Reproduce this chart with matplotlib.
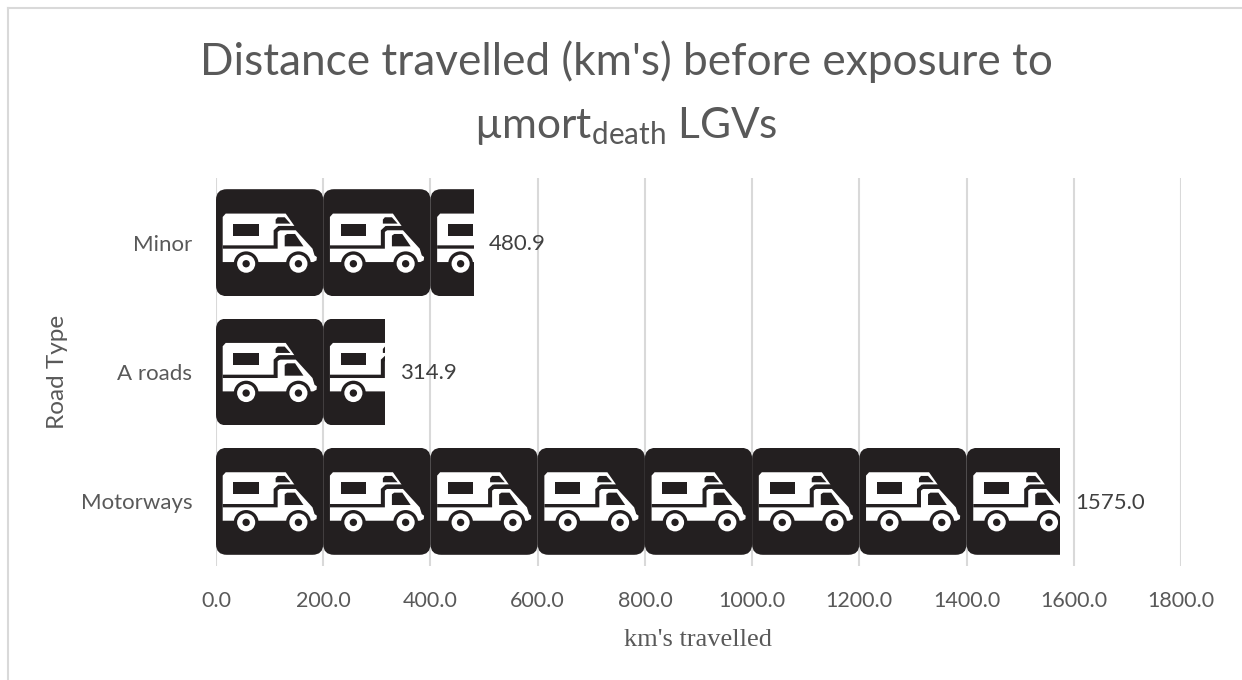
import matplotlib
matplotlib.use('Agg')
import matplotlib.pyplot as plt
from matplotlib.patches import Circle, PathPatch, Polygon
from matplotlib.path import Path
from matplotlib.transforms import Affine2D
from matplotlib.lines import Line2D

# data
road_types = ['Motorways', 'A roads', 'Minor']
km_travelled = [1575.0, 314.9, 480.9]
tile_km = 200.0
x_ticks = [0, 200, 400, 600, 800, 1000, 1200, 1400, 1600, 1800]

plt.rcParams['font.family'] = ['Lato', 'DejaVu Sans']
plt.rcParams['mathtext.fontset'] = 'custom'
plt.rcParams['mathtext.rm'] = 'Lato'
plt.rcParams['mathtext.default'] = 'regular'

GREY = '#595959'
GRID = '#d9d9d9'
DARK = '#231f20'
W, H = 1242, 680

fig = plt.figure(figsize=(W / 100, H / 100), dpi=100)
ax = fig.add_axes([216 / W, 1 - 566 / H, (1181 - 216) / W, (566 - 178) / H])
ax.set_xlim(0, 1800)
ax.set_ylim(-0.5, 2.5)
bar_height = 0.827


# icon outline measured in pixels of a 320 px tile, y going down
def pt(x, y):
    return ((x - 50) / 320, (347 - y) / 320)


def pts(coords):
    return [pt(x, y) for x, y in coords]


def rounded_tile(r=0.1):
    verts = [(r, 0), (1 - r, 0), (1, 0), (1, r), (1, 1 - r), (1, 1), (1 - r, 1),
             (r, 1), (0, 1), (0, 1 - r), (0, r), (0, 0), (r, 0), (r, 0)]
    codes = [Path.MOVETO, Path.LINETO, Path.CURVE3, Path.CURVE3, Path.LINETO,
             Path.CURVE3, Path.CURVE3, Path.LINETO, Path.CURVE3, Path.CURVE3,
             Path.LINETO, Path.CURVE3, Path.CURVE3, Path.CLOSEPOLY]
    return Path(verts, codes)


body = [(70, 110), (79, 100), (258, 100), (284, 137), (240, 137), (232, 150), (288, 150),
        (338, 205), (344, 225), (351, 230), (350, 240), (340, 245), (70, 245)]
window = [(102, 130), (177, 130), (177, 166), (102, 166)]
top_window = [(228, 118), (234, 111), (255, 111), (272, 130), (228, 130)]
cab_window = [(255, 166), (262, 161), (286, 161), (311, 198), (255, 198)]
stripe = [(70, 195), (222, 195), (222, 150), (236, 137), (284, 137), (288, 146), (245, 146),
          (234, 155), (234, 205), (70, 205)]
wheels = [(140, 250), (296, 250)]


def draw_tile(x0, y0, clip):
    tr = Affine2D().scale(tile_km, bar_height).translate(x0, y0) + ax.transData
    shapes = [PathPatch(rounded_tile(), fc=DARK, ec='none', transform=tr)]
    shapes.append(Polygon(pts(body), fc='white', ec='none', transform=tr))
    for poly in [window, top_window, cab_window, stripe]:
        shapes.append(Polygon(pts(poly), fc=DARK, ec='none', transform=tr))
    for wx, wy in wheels:
        c = pt(wx, wy)
        shapes.append(Circle(c, 37 / 320, fc=DARK, ec='none', transform=tr))
        shapes.append(Circle(c, 27 / 320, fc='white', ec='none', transform=tr))
        shapes.append(Circle(c, 11 / 320, fc=DARK, ec='none', transform=tr))
    for s in shapes:
        s.set_zorder(3)
        ax.add_patch(s)
        s.set_clip_path(clip)


bars = ax.barh(range(len(road_types)), km_travelled, height=bar_height, color='none', edgecolor='none')
for i, (rect, val) in enumerate(zip(bars, km_travelled)):
    y0 = i - bar_height / 2
    x0 = 0.0
    while x0 < val:
        draw_tile(x0, y0, rect)
        x0 += tile_km
    ax.annotate(f'{val:.1f}', (val, i), xytext=(11, -1), textcoords='offset points',
                ha='left', va='center', fontsize=16, color='#404040', zorder=4)

ax.set_xticks(x_ticks)
ax.set_xticklabels([f'{v:.1f}' for v in x_ticks], fontsize=15.5, color=GREY)
ax.set_yticks(range(len(road_types)))
ax.set_yticklabels(road_types, fontsize=16, color=GREY)
ax.tick_params(length=0)
ax.tick_params(axis='x', pad=18)
ax.tick_params(axis='y', pad=17)
ax.grid(axis='x', color=GRID, lw=1.5, zorder=0)
ax.set_axisbelow(True)
for s in ax.spines.values():
    s.set_visible(False)

fig.text(58 / W, 1 - 372 / H, 'Road Type', rotation=90, ha='center', va='center',
         fontsize=17.5, color=GREY)
fig.text(698 / W, 1 - 640 / H, "km's travelled", ha='center', va='center', fontsize=19,
         color=GREY, family='Liberation Serif')
fig.text(626 / W, 1 - 62 / H, "Distance travelled (km's) before exposure to", ha='center',
         va='center', fontsize=31.8, color=GREY)
fig.text(626 / W, 1 - 126 / H, "µmort$_{death}$ LGVs", ha='center', va='center',
         fontsize=30.5, color=GREY)

# chart frame, only left and top show in the picture
fig.add_artist(Line2D([8 / W, 8 / W], [0, 1 - 8 / H], color=GRID, lw=1.5, transform=fig.transFigure))
fig.add_artist(Line2D([8 / W, 1], [1 - 8 / H, 1 - 8 / H], color=GRID, lw=1.5, transform=fig.transFigure))

fig.savefig('out.png', dpi=100)
